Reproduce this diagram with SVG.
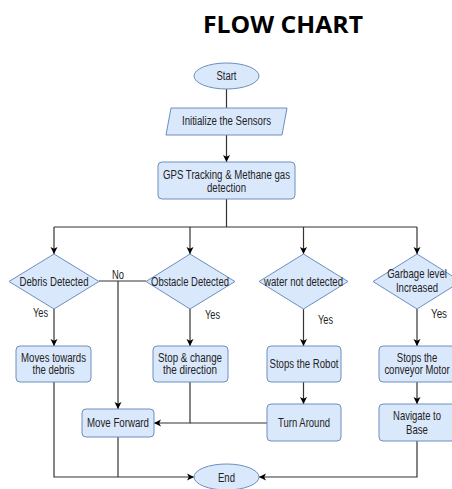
<svg xmlns="http://www.w3.org/2000/svg" width="452" height="489" viewBox="0 0 452 489">
<style>
.s{fill:#dae8fc;stroke:#6c8ebf;stroke-width:1}
.t{font-family:"Liberation Sans",Arial,sans-serif;font-size:12px;fill:#222;text-anchor:middle;dominant-baseline:central}
.c{fill:none;stroke:#333;stroke-width:1.2}
.a{marker-end:url(#ah)}
</style>
<defs>
<marker id="ah" markerUnits="userSpaceOnUse" markerWidth="8" markerHeight="8" refX="7" refY="4" orient="auto">
<path d="M0,0.5 L7,4 L0,7.5 L1.8,4 Z" fill="#000"/>
</marker>
</defs>
<rect width="452" height="489" fill="#fff"/>
<text x="283" y="33" font-family="'Open Sans','Liberation Sans',sans-serif" font-weight="bold" font-size="24" text-anchor="middle" textLength="160" lengthAdjust="spacingAndGlyphs" fill="#000">FLOW CHART</text>
<g id="connectors">
<path class="c" d="M226.5,89 V108"/>
<path class="c a" d="M226.5,135 V162"/>
<path class="c" d="M226.5,199 V227 M54,227 H417"/>
<path class="c a" d="M54,227 V254"/>
<path class="c a" d="M190,227 V254"/>
<path class="c a" d="M303.5,227 V254"/>
<path class="c a" d="M417,227 V254"/>
<path class="c a" d="M54,309 V346"/>
<path class="c" d="M99,281 H146"/>
<path class="c a" d="M118,281 V409"/>
<path class="c a" d="M190,309 V346"/>
<path class="c a" d="M190,382 V423 H154"/>
<path class="c" d="M267,423 H190"/>
<path class="c a" d="M303.5,309 V346"/>
<path class="c a" d="M303.5,382 V404"/>
<path class="c a" d="M417,309 V346"/>
<path class="c a" d="M417,382 V404"/>
<path class="c a" d="M54,382 V477 H194"/>
<path class="c" d="M118,437 V477"/>
<path class="c a" d="M417,441 V477 H259"/>
<text class="t" x="118" y="275" textLength="12" lengthAdjust="spacingAndGlyphs">No</text>
<text class="t" x="40.5" y="313" textLength="15" lengthAdjust="spacingAndGlyphs">Yes</text>
<text class="t" x="212.5" y="315" textLength="15" lengthAdjust="spacingAndGlyphs">Yes</text>
<text class="t" x="325.5" y="320" textLength="15" lengthAdjust="spacingAndGlyphs">Yes</text>
<text class="t" x="439" y="314" textLength="16" lengthAdjust="spacingAndGlyphs">Yes</text>
</g>
<g id="start">
<ellipse class="s" cx="226.5" cy="76" rx="32.5" ry="13"/>
<text class="t" x="226.5" y="76" textLength="20" lengthAdjust="spacingAndGlyphs">Start</text>
</g>
<g id="init">
<polygon class="s" points="171,108 287,108 282,135 166,135"/>
<text class="t" x="226.5" y="121" textLength="89" lengthAdjust="spacingAndGlyphs">Initialize the Sensors</text>
</g>
<g id="gps">
<rect class="s" x="158" y="162" width="137" height="37" rx="4"/>
<text class="t" x="226.5" y="174.5" textLength="127" lengthAdjust="spacingAndGlyphs">GPS Tracking &amp; Methane gas</text>
<text class="t" x="226.5" y="187.5" textLength="39" lengthAdjust="spacingAndGlyphs">detection</text>
</g>
<g id="debris">
<polygon class="s" points="54,254 99,281.5 54,309 9,281.5"/>
<text class="t" x="54" y="281.5" textLength="69" lengthAdjust="spacingAndGlyphs">Debris Detected</text>
</g>
<g id="obstacle">
<polygon class="s" points="190,254 235,281.5 190,309 146,281.5"/>
<text class="t" x="190" y="281.5" textLength="78" lengthAdjust="spacingAndGlyphs">Obstacle Detected</text>
</g>
<g id="water">
<polygon class="s" points="303.5,254 348,281.5 303.5,309 259,281.5"/>
<text class="t" x="303.5" y="281.5" textLength="79" lengthAdjust="spacingAndGlyphs">water not detected</text>
</g>
<g id="garbage">
<polygon class="s" points="417,254 461,281.5 417,309 373,281.5"/>
<text class="t" transform="translate(417,273.5) scale(0.8,1)">Garbage level</text>
<text class="t" transform="translate(417,288) scale(0.8,1)">Increased</text>
</g>
<g id="moves">
<rect class="s" x="16" y="346" width="75" height="36" rx="4"/>
<text class="t" x="53.5" y="357.5" textLength="65" lengthAdjust="spacingAndGlyphs">Moves towards</text>
<text class="t" x="53.5" y="370" textLength="42" lengthAdjust="spacingAndGlyphs">the debris</text>
</g>
<g id="stop">
<rect class="s" x="153" y="346" width="75" height="36" rx="4"/>
<text class="t" x="190" y="357.5" textLength="64" lengthAdjust="spacingAndGlyphs">Stop &amp; change</text>
<text class="t" x="190" y="370" textLength="54" lengthAdjust="spacingAndGlyphs">the direction</text>
</g>
<g id="stopsrobot">
<rect class="s" x="267" y="346" width="74" height="36" rx="4"/>
<text class="t" x="304" y="363.5" textLength="69" lengthAdjust="spacingAndGlyphs">Stops the Robot</text>
</g>
<g id="conveyor">
<rect class="s" x="379" y="346" width="76" height="36" rx="4"/>
<text class="t" transform="translate(417,357.5) scale(0.8,1)">Stops the</text>
<text class="t" transform="translate(417,370) scale(0.79,1)">conveyor Motor</text>
</g>
<g id="moveforward">
<rect class="s" x="82" y="409" width="72" height="28" rx="4"/>
<text class="t" x="118" y="423" textLength="62" lengthAdjust="spacingAndGlyphs">Move Forward</text>
</g>
<g id="turnaround">
<rect class="s" x="267" y="404" width="74" height="37" rx="4"/>
<text class="t" x="304" y="422.5" textLength="52" lengthAdjust="spacingAndGlyphs">Turn Around</text>
</g>
<g id="navigate">
<rect class="s" x="379" y="404" width="76" height="37" rx="4"/>
<text class="t" transform="translate(417,415.5) scale(0.79,1)">Navigate to</text>
<text class="t" transform="translate(417,429.5) scale(0.8,1)">Base</text>
</g>
<g id="end">
<ellipse class="s" cx="226.5" cy="477" rx="32.5" ry="13"/>
<text class="t" x="226.5" y="478" textLength="17" lengthAdjust="spacingAndGlyphs">End</text>
</g>
</svg>
